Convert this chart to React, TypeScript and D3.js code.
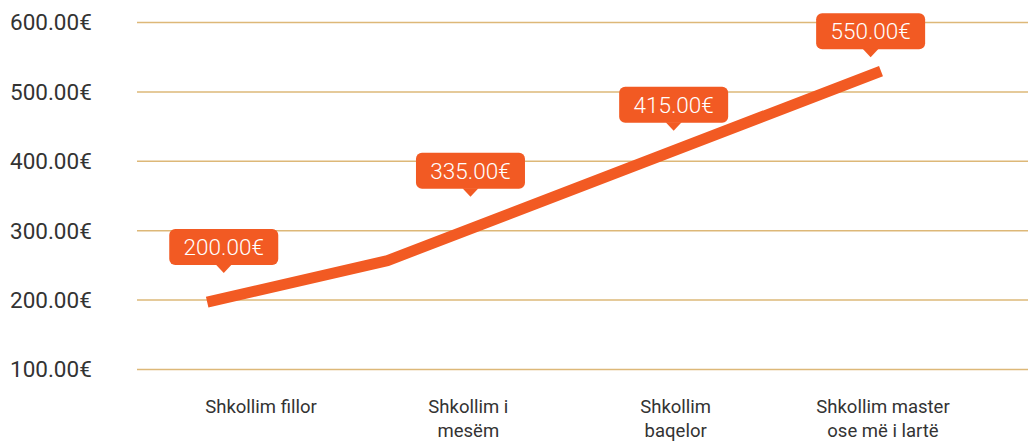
import React, { useEffect, useRef } from "react";
import * as d3 from "d3";

// categories (one entry per label line)
const categories: string[][] = [
  ["Shkollim fillor"],
  ["Shkollim i", "mesëm"],
  ["Shkollim", "baqelor"],
  ["Shkollim master", "ose më i lartë"],
];

const yTickValues = [100, 200, 300, 400, 500, 600];

// trend line (x in category-index units)
const lineIndex = [-0.25, 0.62, 3.0];
const lineValues = [197, 257, 530];

// callouts: shown value and where the pointer tip sits
const calloutLabels = [200, 335, 415, 550];
const calloutIndex = [-0.17, 1.02, 2.0, 2.95];
const calloutAnchor = [239, 349, 444, 550];

const ORANGE = "#F25A23";
const GRID = "#DDB878";

const App = () => {
  const svgRef = useRef<SVGSVGElement>(null);

  useEffect(() => {
    const width = 1028;
    const height = 442;
    const svg = d3.select(svgRef.current);
    svg.selectAll("*").remove();
    svg.attr("width", width).attr("height", height);

    const gridLeft = 137;
    const x = d3.scaleLinear().domain([0, 3]).range([259, 881]);
    const y = d3.scaleLinear().domain([100, 600]).range([369.5, 22.5]);
    const fmt = (v: number) => d3.format(".2f")(v) + "€";

    // Grid lines
    svg
      .append("g")
      .selectAll("line")
      .data(yTickValues)
      .join("line")
      .attr("x1", gridLeft)
      .attr("x2", width)
      .attr("y1", (d) => y(d))
      .attr("y2", (d) => y(d))
      .attr("stroke", GRID)
      .attr("stroke-width", 1.5);

    // Y tick labels
    svg
      .append("g")
      .selectAll("text")
      .data(yTickValues)
      .join("text")
      .attr("x", 10)
      .attr("y", (d) => y(d))
      .attr("dy", "0.35em")
      .style("font-family", "Roboto, sans-serif")
      .style("font-size", "22.5px")
      .attr("fill", "#333")
      .text((d) => fmt(d));

    // X labels
    const xl = svg
      .append("g")
      .selectAll("text")
      .data(categories)
      .join("text")
      .attr("text-anchor", "middle")
      .style("font-family", "Roboto, sans-serif")
      .style("font-size", "18.5px")
      .attr("fill", "#333");
    xl.each(function (lines, i) {
      d3.select(this)
        .selectAll("tspan")
        .data(lines)
        .join("tspan")
        .attr("x", x(i) + 2)
        .attr("y", (_, j) => 413 + j * 24)
        .text((t) => t);
    });

    // Line
    const pts = lineIndex.map((v, i) => [v, lineValues[i]] as [number, number]);
    svg
      .append("path")
      .datum(pts)
      .attr("fill", "none")
      .attr("stroke", ORANGE)
      .attr("stroke-width", 11)
      .attr("stroke-linejoin", "round")
      .attr(
        "d",
        d3
          .line<[number, number]>()
          .x((d) => x(d[0]))
          .y((d) => y(d[1]))
      );

    // Callouts
    const boxW = 109;
    const boxH = 36;
    const tipH = 8;
    const tipW = 8;
    const callouts = svg
      .append("g")
      .selectAll("g")
      .data(calloutLabels)
      .join("g")
      .attr(
        "transform",
        (_, i) => `translate(${x(calloutIndex[i])},${y(calloutAnchor[i])})`
      );
    callouts
      .append("rect")
      .attr("x", -boxW / 2)
      .attr("y", -tipH - boxH)
      .attr("width", boxW)
      .attr("height", boxH)
      .attr("rx", 6)
      .attr("fill", ORANGE);
    callouts
      .append("path")
      .attr("d", `M${-tipW},${-tipH - 0.5}L0,0L${tipW},${-tipH - 0.5}Z`)
      .attr("fill", ORANGE);
    callouts
      .append("text")
      .attr("text-anchor", "middle")
      .attr("y", -tipH - boxH / 2)
      .attr("dy", "0.36em")
      .style("font-family", "Roboto, sans-serif")
      .style("font-size", "22.5px")
      .style("font-weight", "300")
      .attr("fill", "#fff")
      .text((d) => fmt(d));
  }, []);

  return (
    <svg
      ref={svgRef}
      style={{ position: "absolute", left: 0, top: 0, display: "block" }}
    ></svg>
  );
};

export default App;
